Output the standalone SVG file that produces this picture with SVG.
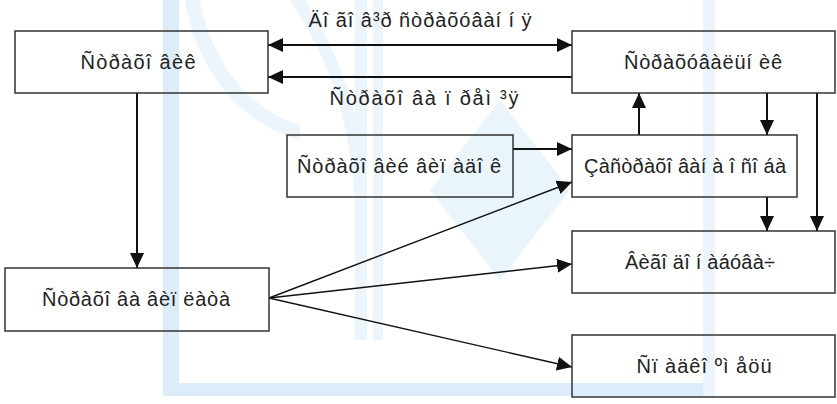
<svg xmlns="http://www.w3.org/2000/svg" width="837" height="404" viewBox="0 0 837 404">
<defs>
<style>
.box{fill:none;stroke:#333;stroke-width:1.5}
.t{font-family:"Liberation Sans",Arial,sans-serif;font-size:20px;fill:#222;text-anchor:middle}
.c{stroke:#111;stroke-width:2;fill:none}
.f{stroke:#111;stroke-width:1.4;fill:none}
.wm{fill:#dcecf8}
.wm2{fill:#ecf5fc}
</style>
<marker id="ah" markerUnits="userSpaceOnUse" markerWidth="16" markerHeight="14" refX="15" refY="7" orient="auto-start-reverse">
<path d="M0,0 L15,7 L0,14 Z" fill="#111"/>
</marker>
</defs>
<rect width="837" height="404" fill="#fff"/>
<g id="watermark">
<rect class="wm" x="163" y="0" width="16" height="396"/>
<rect class="wm" x="163" y="383" width="552" height="13"/>
<rect class="wm2" x="703" y="0" width="12" height="396"/>
<rect class="wm2" x="355" y="0" width="12" height="340"/>
<rect class="wm2" x="373" y="0" width="10" height="340"/>
<path class="wm2" d="M185,0 C200,90 260,130 300,140 L300,125 C265,115 215,80 200,0 Z"/>
<path class="wm2" d="M290,0 C330,60 350,120 355,200 L367,200 C362,115 340,55 305,0 Z"/>
<path class="wm" d="M500,100 L570,190 L500,280 L430,190 Z" opacity="0.6"/>
</g>
<g id="connectors">
<line class="c" x1="268" y1="45" x2="572" y2="45" marker-start="url(#ah)" marker-end="url(#ah)"/>
<line class="c" x1="572" y1="77" x2="268" y2="77" marker-end="url(#ah)"/>
<line class="c" x1="639" y1="135" x2="639" y2="93" marker-end="url(#ah)"/>
<line class="c" x1="767" y1="93" x2="767" y2="135" marker-end="url(#ah)"/>
<line class="c" x1="817" y1="93" x2="817" y2="231" marker-end="url(#ah)"/>
<line class="c" x1="767" y1="197" x2="767" y2="231" marker-end="url(#ah)"/>
<line class="c" x1="513" y1="149" x2="572" y2="149" marker-end="url(#ah)"/>
<line class="c" x1="137" y1="93" x2="137" y2="268" marker-end="url(#ah)"/>
<line class="f" x1="269" y1="298" x2="572" y2="182" marker-end="url(#ah)"/>
<line class="f" x1="269" y1="298" x2="572" y2="264" marker-end="url(#ah)"/>
<line class="f" x1="269" y1="298" x2="572" y2="367" marker-end="url(#ah)"/>
<text class="t" x="420" y="27" textLength="223" lengthAdjust="spacing">Äî ãî â³ð ñòðàõóâàí í ÿ</text>
<text class="t" x="424" y="105" textLength="189" lengthAdjust="spacing">Ñòðàõî âà ï ðåì ³ÿ</text>
</g>
<g id="strakhovyk">
<rect class="box" x="15" y="31" width="253" height="62"/>
<text class="t" x="138" y="69" textLength="115" lengthAdjust="spacing">Ñòðàõî âèê</text>
</g>
<g id="strakhuvalnyk">
<rect class="box" x="572" y="31" width="263" height="62"/>
<text class="t" x="703" y="69" textLength="158" lengthAdjust="spacing">Ñòðàõóâàëüí èê</text>
</g>
<g id="vypadok">
<rect class="box" x="287" y="135" width="226" height="62"/>
<text class="t" x="399" y="173" textLength="204" lengthAdjust="spacing">Ñòðàõî âèé âèï àäî ê</text>
</g>
<g id="osoba">
<rect class="box" x="572" y="135" width="225" height="62"/>
<text class="t" x="685" y="173" textLength="202" lengthAdjust="spacing">Çàñòðàõî âàí à î ñî áà</text>
</g>
<g id="vygodonabuvach">
<rect class="box" x="572" y="231" width="263" height="62"/>
<text class="t" x="700" y="269" textLength="150" lengthAdjust="spacing">Âèãî äî í àáóâà÷</text>
</g>
<g id="vyplata">
<rect class="box" x="5" y="268" width="264" height="63"/>
<text class="t" x="136" y="306" textLength="188" lengthAdjust="spacing">Ñòðàõî âà âèï ëàòà</text>
</g>
<g id="spadkoiemets">
<rect class="box" x="572" y="335" width="263" height="62"/>
<text class="t" x="704" y="373" textLength="135" lengthAdjust="spacing">Ñï àäêî ºì åöü</text>
</g>
</svg>
